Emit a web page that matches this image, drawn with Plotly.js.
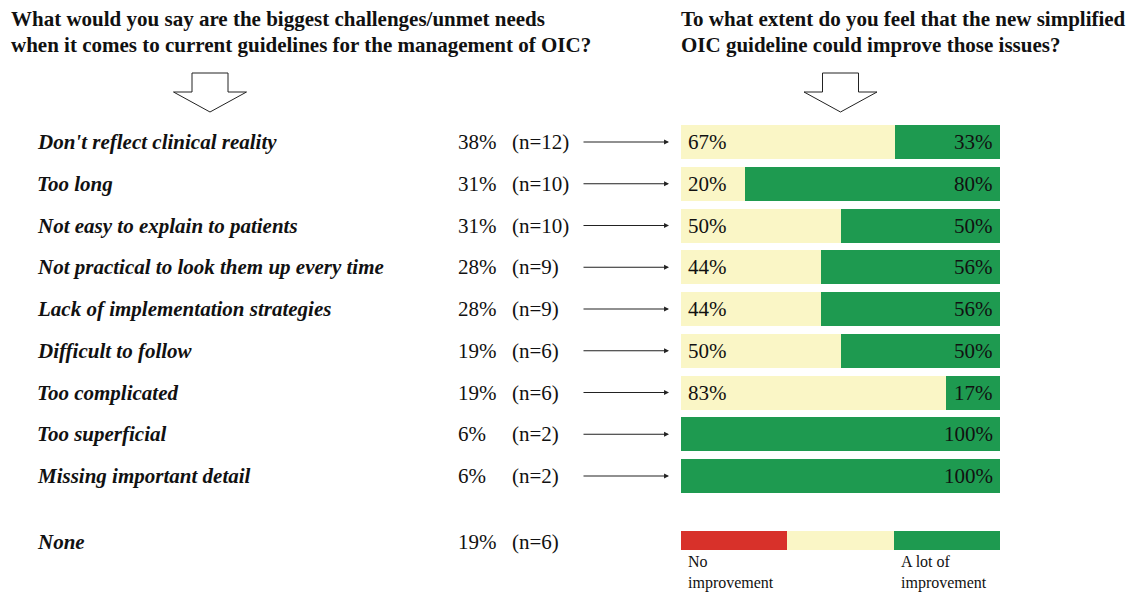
<!DOCTYPE html>
<html>
<head>
<meta charset="utf-8">
<script src="https://cdn.plot.ly/plotly-3.0.1.min.js"></script>
<style>html,body{margin:0;padding:0;background:#fff;}#chart{width:1134px;height:593px;}</style>
</head>
<body>
<div id="chart"></div>
<script>
// ---- data ----
const categories = [
  "Don't reflect clinical reality",
  "Too long",
  "Not easy to explain to patients",
  "Not practical to look them up every time",
  "Lack of implementation strategies",
  "Difficult to follow",
  "Too complicated",
  "Too superficial",
  "Missing important detail"
];
const sharePct = [38, 31, 31, 28, 28, 19, 19, 6, 6];
const counts = [12, 10, 10, 9, 9, 6, 6, 2, 2];
const someImprovement = [67, 20, 50, 44, 44, 50, 83, 0, 0];
const aLotImprovement = [33, 80, 50, 56, 56, 50, 17, 100, 100];
const noneLabel = "None";
const noneShare = 19;
const noneCount = 6;
const scaleSegments = [33.33, 33.33, 33.34]; // red, yellow, green key bar
const scaleLabels = ["No<br>improvement", "A lot of<br>improvement"];
const titleLeft = ["What would you say are the biggest challenges/unmet needs",
                   "when it comes to current guidelines for the management of OIC?"];
const titleRight = ["To what extent do you feel that the new simplified",
                    "OIC guideline could improve those issues?"];

// ---- layout helpers ----
const W = 1134, H = 593;
const ROW0 = 142, PITCH = 41.75;           // pixel centre of first row, row pitch
const yOf = p => (p - ROW0) / PITCH;        // pixel -> y value
const px = x => x / W;
const py = y => 1 - y / H;
const FONT = "'Liberation Serif', 'Times New Roman', Times, serif";
const RED = '#d8312a', YEL = '#faf6c6', GRN = '#1e9a50';
const FS = 21;

const rowsY = categories.map((_, i) => i);
const noneY = yOf(540.5);
const barW = 34 / PITCH;
const keyW = 19 / PITCH;

const traces = [
  { type: 'bar', orientation: 'h', x: [scaleSegments[0]], y: [noneY], width: [keyW],
    marker: { color: RED, line: { width: 0 } }, hoverinfo: 'skip' },
  { type: 'bar', orientation: 'h', x: someImprovement.concat([scaleSegments[1]]),
    y: rowsY.concat([noneY]), width: rowsY.map(() => barW).concat([keyW]),
    marker: { color: YEL, line: { width: 0 } }, hoverinfo: 'skip' },
  { type: 'bar', orientation: 'h', x: aLotImprovement.concat([scaleSegments[2]]),
    y: rowsY.concat([noneY]), width: rowsY.map(() => barW).concat([keyW]),
    marker: { color: GRN, line: { width: 0 } }, hoverinfo: 'skip' }
];

const ann = [];
const txt = (text, x, y, opts) => Object.assign({
  text, x, y, xref: 'paper', yref: 'y', xanchor: 'left', yanchor: 'middle',
  showarrow: false, font: { family: FONT, size: FS, color: '#111' }
}, opts || {});

// titles
titleLeft.forEach((t, i) => ann.push(txt('<b>' + t + '</b>', px(9), py(18.5 + i * 26.5), { yref: 'paper' })));
titleRight.forEach((t, i) => ann.push(txt('<b>' + t + '</b>', px(679), py(18.5 + i * 26.5), { yref: 'paper' })));

// rows
categories.forEach((c, i) => {
  ann.push(txt('<b><i>' + c + '</i></b>', px(35), i));
  ann.push(txt(sharePct[i] + '%', px(456), i));
  ann.push(txt('(n=' + counts[i] + ')', px(510), i));
  ann.push({ x: px(669), y: i, xref: 'paper', yref: 'y', ax: -87, ay: 0, axref: 'pixel', ayref: 'pixel',
    text: '', showarrow: true, arrowhead: 2, arrowsize: 0.9, arrowwidth: 1.1, arrowcolor: '#222' });
  if (someImprovement[i] > 0)
    ann.push(txt(someImprovement[i] + '%', 0, i, { xref: 'x', xshift: 5 }));
  if (aLotImprovement[i] > 0)
    ann.push(txt(aLotImprovement[i] + '%', 100, i, { xref: 'x', xanchor: 'right', xshift: -5 }));
});

// none row
ann.push(txt('<b><i>' + noneLabel + '</i></b>', px(35), yOf(542)));
ann.push(txt(noneShare + '%', px(456), yOf(542)));
ann.push(txt('(n=' + noneCount + ')', px(510), yOf(542)));

// scale labels
ann.push(txt(scaleLabels[0], 0, py(572.5), { xref: 'x', yref: 'paper', xshift: 5, align: 'left',
  font: { family: FONT, size: 16, color: '#111' } }));
ann.push(txt(scaleLabels[1], scaleSegments[0] + scaleSegments[1], py(572.5), { xref: 'x', yref: 'paper', xshift: 5, align: 'left',
  font: { family: FONT, size: 16, color: '#111' } }));

// big down arrows
function downArrow(cx) {
  const pts = [[cx - 18, 73], [cx + 18, 73], [cx + 18, 92], [cx + 36.5, 92], [cx, 112], [cx - 36.5, 92], [cx - 18, 92]];
  return {
    type: 'path', xref: 'paper', yref: 'paper',
    path: 'M' + pts.map(p => px(p[0]) + ',' + py(p[1])).join(' L') + ' Z',
    fillcolor: '#fff', line: { color: '#222', width: 1 }
  };
}

const layout = {
  width: W, height: H,
  margin: { l: 0, r: 0, t: 0, b: 0, pad: 0 },
  paper_bgcolor: '#fff', plot_bgcolor: 'rgba(0,0,0,0)',
  barmode: 'stack', bargap: 0, showlegend: false,
  xaxis: { domain: [px(681), px(1000)], range: [0, 100], visible: false, fixedrange: true },
  yaxis: { domain: [0, 1], range: [yOf(H), yOf(0)], visible: false, fixedrange: true },
  annotations: ann,
  shapes: [downArrow(210), downArrow(840.5)]
};

Plotly.newPlot('chart', traces, layout, { displayModeBar: false, staticPlot: true });
</script>
</body>
</html>
